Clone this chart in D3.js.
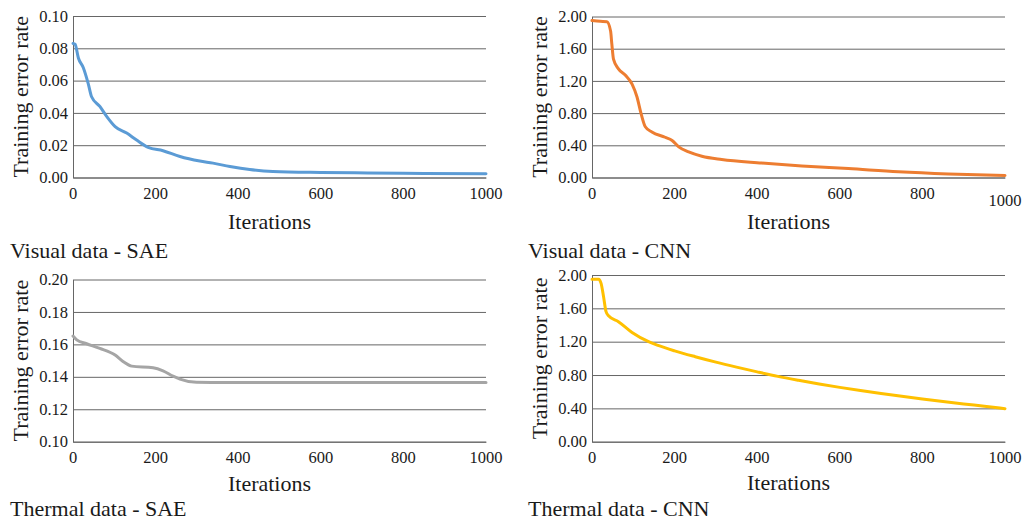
<!DOCTYPE html>
<html>
<head>
<meta charset="utf-8">
<script src="https://cdn.jsdelivr.net/npm/d3@7"></script>
<style>
  html, body { margin: 0; padding: 0; background: #fff; }
  svg { display: block; }
  .lbl { font-family: "Liberation Serif", "Times New Roman", serif; fill: #1a1a1a; }
</style>
</head>
<body>
<svg id="chart" width="1023" height="520"></svg>
<script>
// ---- Data ----
const xTicks = [0, 200, 400, 600, 800, 1000];

const yTicksVisualSAE = [0.00, 0.02, 0.04, 0.06, 0.08, 0.10];
const yTicksThermalSAE = [0.10, 0.12, 0.14, 0.16, 0.18, 0.20];
const yTicksCNN = [0.00, 0.40, 0.80, 1.20, 1.60, 2.00];

const visualSAEIter = [0, 5, 13, 25, 37, 45, 65, 81, 102, 130, 154, 182, 218, 259, 307, 339, 380, 428, 484, 600, 714, 850, 1000];
const visualSAEVal  = [0.083, 0.0825, 0.074, 0.068, 0.058, 0.050, 0.044, 0.038, 0.0315, 0.0275, 0.0232, 0.0187, 0.0166, 0.013, 0.0102, 0.0089, 0.0068, 0.0049, 0.0037, 0.0031, 0.0028, 0.0025, 0.0023];

const visualCNNIter = [0, 20, 36, 45, 48, 52, 64, 81, 97, 109, 119, 129, 145, 177, 194, 210, 234, 266, 314, 411, 508, 621, 742, 863, 1000];
const visualCNNVal  = [1.95, 1.94, 1.935, 1.82, 1.66, 1.47, 1.35, 1.27, 1.16, 1.00, 0.79, 0.63, 0.565, 0.50, 0.46, 0.38, 0.317, 0.264, 0.223, 0.18, 0.144, 0.111, 0.072, 0.045, 0.025];

const thermalSAEIter = [0, 9, 33, 65, 102, 122, 142, 194, 218, 242, 259, 299, 400, 600, 800, 1000];
const thermalSAEVal  = [0.1651, 0.1628, 0.1604, 0.1575, 0.1534, 0.1493, 0.1466, 0.1456, 0.1437, 0.1405, 0.1386, 0.1366, 0.1365, 0.1365, 0.1365, 0.1365];

const thermalCNNIter = [0, 16, 22, 28, 34, 40, 64, 97, 137, 160, 200, 250, 300, 350, 400, 450, 500, 550, 600, 650, 700, 750, 800, 850, 900, 950, 1000];
const thermalCNNVal  = [1.95, 1.95, 1.90, 1.74, 1.56, 1.51, 1.44, 1.31, 1.20, 1.155, 1.09, 1.02, 0.955, 0.895, 0.838, 0.784, 0.737, 0.693, 0.652, 0.614, 0.578, 0.544, 0.512, 0.482, 0.453, 0.425, 0.396];

const subtitles = ["Visual data - SAE", "Visual data - CNN", "Thermal data - SAE", "Thermal data - CNN"];
const yTitle = "Training error rate";
const xTitle = "Iterations";

// ---- Panels (layout) ----
const panels = [
  { iter: visualSAEIter, val: visualSAEVal, ticks: yTicksVisualSAE, color: "#5B9BD5",
    l: 73, r: 486, t: 16, b: 177.5, sub: subtitles[0], subX: 10, subY: 258, titleY: 229, lastLabelDy: 0 },
  { iter: visualCNNIter, val: visualCNNVal, ticks: yTicksCNN, color: "#ED7D31",
    l: 592, r: 1005, t: 16.5, b: 177.5, sub: subtitles[1], subX: 528, subY: 258, titleY: 229, lastLabelDy: 7 },
  { iter: thermalSAEIter, val: thermalSAEVal, ticks: yTicksThermalSAE, color: "#A5A5A5",
    l: 73, r: 486, t: 279.5, b: 441.7, sub: subtitles[2], subX: 10, subY: 516, titleY: 491, lastLabelDy: 0 },
  { iter: thermalCNNIter, val: thermalCNNVal, ticks: yTicksCNN, color: "#FFC000",
    l: 592, r: 1005, t: 275, b: 441.7, sub: subtitles[3], subX: 528, subY: 516, titleY: 490, lastLabelDy: 0 }
];

const svg = d3.select("#chart");
svg.append("rect").attr("width", 1023).attr("height", 520).attr("fill", "#fff");

const gridColor = "#666666";
const serif = "Liberation Serif, Times New Roman, serif";
const fmtY = d3.format(".2f");

panels.forEach(p => {
  const x = d3.scaleLinear().domain([0, 1000]).range([p.l, p.r]);
  const y = d3.scaleLinear().domain([p.ticks[0], p.ticks[p.ticks.length - 1]]).range([p.b, p.t]);

  // Y axis gridlines (labels drawn separately)
  const gy = svg.append("g")
    .attr("transform", `translate(${p.l},0)`)
    .call(d3.axisLeft(y).tickValues(p.ticks).tickFormat("")
      .tickSizeInner(-(p.r - p.l)).tickSizeOuter(0));
  gy.selectAll(".tick line").attr("stroke", gridColor).attr("stroke-width", 1);
  gy.select(".domain").attr("stroke", gridColor).attr("stroke-width", 1);
  gy.selectAll("text").remove();

  svg.append("g").selectAll("text")
    .data(p.ticks).join("text")
    .attr("class", "lbl")
    .attr("font-family", serif)
    .attr("font-size", 16.5)
    .attr("text-anchor", "end")
    .attr("x", p.l - 5)
    .attr("y", d => y(d))
    .attr("dy", "0.34em")
    .text(d => fmtY(d));

  // X axis line
  const gx = svg.append("g")
    .attr("transform", `translate(0,${p.b})`)
    .call(d3.axisBottom(x).tickValues(xTicks).tickFormat("").tickSize(0));
  gx.select(".domain").attr("stroke", gridColor).attr("stroke-width", 1);
  gx.selectAll("text").remove();

  svg.append("g").selectAll("text")
    .data(xTicks).join("text")
    .attr("class", "lbl")
    .attr("font-family", serif)
    .attr("font-size", 16.5)
    .attr("text-anchor", "middle")
    .attr("x", d => x(d))
    .attr("y", d => p.b + 21.5 + (d === 1000 ? p.lastLabelDy : 0))
    .text(d => d3.format("d")(d));

  // Series line
  const pts = p.iter.map((it, i) => [it, p.val[i]]);
  svg.append("path")
    .datum(pts)
    .attr("fill", "none")
    .attr("stroke", p.color)
    .attr("stroke-width", 3)
    .attr("stroke-linejoin", "round")
    .attr("stroke-linecap", "round")
    .attr("d", d3.line().x(d => x(d[0])).y(d => y(d[1])).curve(d3.curveMonotoneX));

  // Y title
  svg.append("text")
    .attr("class", "lbl")
    .attr("font-family", serif)
    .attr("transform", `translate(${p.l - 45},${(p.t + p.b) / 2}) rotate(-90)`)
    .attr("text-anchor", "middle")
    .attr("font-size", 22)
    .text(yTitle);

  // X title
  svg.append("text")
    .attr("class", "lbl")
    .attr("font-family", serif)
    .attr("x", (p.l + p.r) / 2 - 10)
    .attr("y", p.titleY)
    .attr("text-anchor", "middle")
    .attr("font-size", 22)
    .text(xTitle);

  // Subtitle
  svg.append("text")
    .attr("class", "lbl")
    .attr("font-family", serif)
    .attr("x", p.subX)
    .attr("y", p.subY)
    .attr("font-size", 22)
    .text(p.sub);
});
</script>
</body>
</html>
